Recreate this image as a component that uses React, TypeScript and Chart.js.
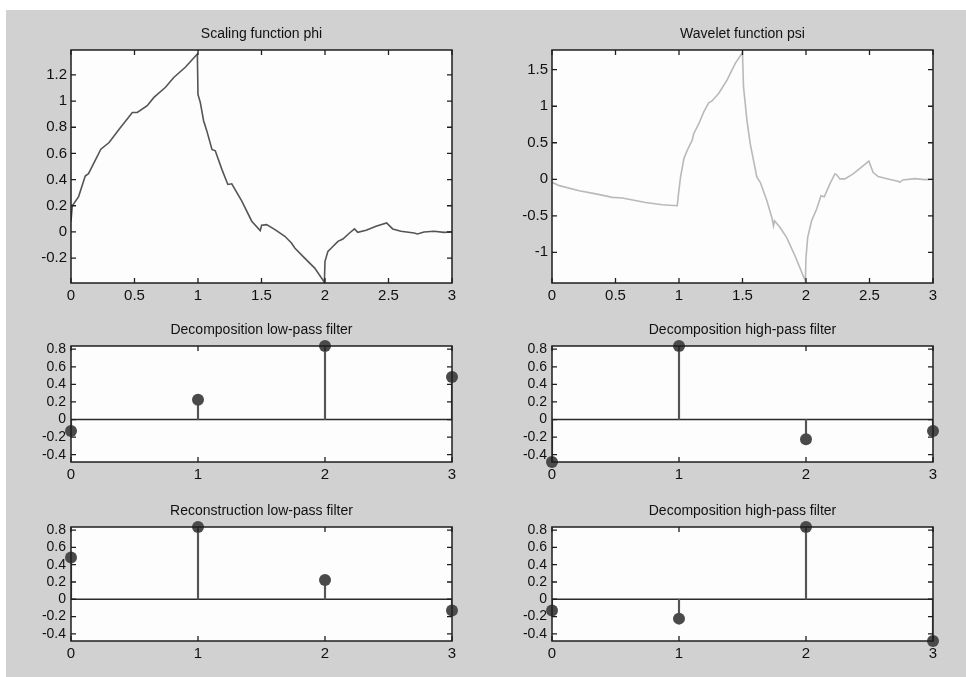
import React, { useEffect, useRef } from "react";
import { Chart, registerables } from "chart.js";

Chart.register(...registerables);

// ---------- data ----------
const PHI_X = [0, 0.01, 0.06, 0.112, 0.138, 0.235, 0.3, 0.379, 0.483, 0.522, 0.6, 0.653, 0.744, 0.809, 0.9, 0.995, 1.0, 1.018, 1.044, 1.07, 1.11, 1.136, 1.188, 1.235, 1.266, 1.345, 1.423, 1.49, 1.501, 1.54, 1.606, 1.684, 1.736, 1.762, 1.84, 1.919, 1.995, 2.0, 2.023, 2.05, 2.102, 2.141, 2.193, 2.232, 2.258, 2.324, 2.402, 2.485, 2.533, 2.598, 2.702, 2.728, 2.78, 2.859, 2.937, 3.0];
const PHI_Y = [0.08, 0.2, 0.27, 0.427, 0.445, 0.632, 0.683, 0.785, 0.913, 0.913, 0.964, 1.028, 1.105, 1.18, 1.258, 1.36, 1.05, 0.99, 0.85, 0.77, 0.63, 0.62, 0.478, 0.363, 0.368, 0.235, 0.082, 0.01, 0.051, 0.056, 0.018, -0.033, -0.084, -0.123, -0.2, -0.276, -0.384, -0.225, -0.148, -0.123, -0.072, -0.054, -0.008, 0.023, -0.003, 0.013, 0.043, 0.069, 0.023, 0.005, -0.008, -0.015, 0, 0.005, -0.003, 0];

const PSI_X = [0, 0.058, 0.214, 0.345, 0.476, 0.554, 0.737, 0.868, 0.986, 0.999, 1.012, 1.038, 1.064, 1.103, 1.116, 1.156, 1.195, 1.234, 1.26, 1.312, 1.378, 1.443, 1.5, 1.508, 1.535, 1.561, 1.613, 1.64, 1.692, 1.731, 1.744, 1.752, 1.796, 1.848, 1.914, 1.979, 1.995, 2.0, 2.013, 2.044, 2.084, 2.118, 2.144, 2.188, 2.227, 2.24, 2.267, 2.306, 2.371, 2.437, 2.495, 2.528, 2.568, 2.646, 2.725, 2.738, 2.763, 2.855, 2.934, 3.0];
const PSI_Y = [-0.041, -0.087, -0.156, -0.2, -0.248, -0.257, -0.317, -0.349, -0.362, -0.156, 0.028, 0.28, 0.394, 0.532, 0.624, 0.761, 0.922, 1.046, 1.073, 1.174, 1.358, 1.587, 1.734, 1.266, 0.807, 0.486, 0.028, -0.041, -0.294, -0.523, -0.638, -0.569, -0.66, -0.798, -1.05, -1.326, -1.394, -1.073, -0.798, -0.569, -0.408, -0.225, -0.239, -0.064, 0.073, 0.064, 0.005, 0.005, 0.073, 0.165, 0.248, 0.096, 0.037, 0.005, -0.028, -0.041, -0.009, 0.009, -0.005, 0];

const FILTER_X = [0, 1, 2, 3];
const LO_D = [-0.1294, 0.2241, 0.8365, 0.483];
const HI_D = [-0.483, 0.8365, -0.2241, -0.1294];
const LO_R = [0.483, 0.8365, 0.2241, -0.1294];
const HI_R = [-0.1294, -0.2241, 0.8365, -0.483];

const FUNC_X_TICKS = [0, 0.5, 1, 1.5, 2, 2.5, 3];
const PHI_Y_TICKS = [-0.2, 0, 0.2, 0.4, 0.6, 0.8, 1, 1.2];
const PSI_Y_TICKS = [-1, -0.5, 0, 0.5, 1, 1.5];
const FILTER_X_TICKS = [0, 1, 2, 3];
const FILTER_Y_TICKS = [-0.4, -0.2, 0, 0.2, 0.4, 0.6, 0.8];

const X_RANGE = [0, 3];
const PHI_RANGE = [-0.39, 1.39];
const PSI_RANGE = [-1.42, 1.77];
const FILTER_RANGE = [-0.483, 0.8365];

const TITLES = [
  "Scaling function phi",
  "Wavelet function psi",
  "Decomposition low-pass filter",
  "Decomposition high-pass filter",
  "Reconstruction low-pass filter",
  "Decomposition high-pass filter",
];

// ---------- styling ----------
const FONT = '"Liberation Sans", Arial, Helvetica, sans-serif';
const TEXT = "#111111";

const framePlugin = {
  id: "frame",
  beforeDraw(chart: any) {
    const { ctx, chartArea: a } = chart;
    ctx.save();
    ctx.fillStyle = "#fdfdfd";
    ctx.fillRect(a.left, a.top, a.right - a.left, a.bottom - a.top);
    ctx.restore();
  },
  afterDraw(chart: any, _args: any, opts: any) {
    const { ctx, chartArea: a, scales } = chart;
    ctx.save();
    ctx.strokeStyle = "#1e1e1e";
    ctx.lineWidth = 1.5;
    ctx.strokeRect(a.left, a.top, a.right - a.left, a.bottom - a.top);
    const tl = 5;
    ctx.lineWidth = 1.3;
    ctx.beginPath();
    scales.x.ticks.forEach((t: any) => {
      const px = scales.x.getPixelForValue(t.value);
      ctx.moveTo(px, a.bottom);
      ctx.lineTo(px, a.bottom - tl);
      ctx.moveTo(px, a.top);
      ctx.lineTo(px, a.top + tl);
    });
    scales.y.ticks.forEach((t: any) => {
      const py = scales.y.getPixelForValue(t.value);
      ctx.moveTo(a.left, py);
      ctx.lineTo(a.left + tl, py);
      ctx.moveTo(a.right, py);
      ctx.lineTo(a.right - tl, py);
    });
    ctx.stroke();
    if (opts && opts.title) {
      ctx.fillStyle = TEXT;
      ctx.font = `14px ${FONT}`;
      ctx.textAlign = "center";
      ctx.textBaseline = "middle";
      ctx.fillText(opts.title, (a.left + a.right) / 2, a.top - 16);
    }
    ctx.restore();
  },
};

function axis(range: number[], ticks: number[], fitKey: "width" | "height", fitVal: number, fontSize: number, pad: number) {
  return {
    type: "linear",
    min: range[0],
    max: range[1],
    offset: false,
    grid: { display: false, drawTicks: false },
    border: { display: false },
    afterBuildTicks: (s: any) => {
      s.ticks = ticks.map((v) => ({ value: v }));
    },
    afterFit: (s: any) => {
      s[fitKey] = fitVal;
    },
    ticks: {
      autoSkip: false,
      maxRotation: 0,
      minRotation: 0,
      padding: pad,
      color: TEXT,
      font: { family: FONT, size: fontSize },
      callback: (v: any) => String(v),
    },
  };
}

function lineConfig(title: string, xs: number[], ys: number[], color: string, yRange: number[], yTicks: number[], xHeight: number) {
  return {
    type: "line",
    data: {
      datasets: [
        {
          data: xs.map((x, i) => ({ x, y: ys[i] })),
          borderColor: color,
          borderWidth: 1.6,
          pointRadius: 0,
          tension: 0,
          fill: false,
        },
      ],
    },
    options: {
      responsive: false,
      animation: false,
      layout: { padding: { left: 0, right: 18, top: 36, bottom: 0 } },
      plugins: { legend: { display: false }, tooltip: { enabled: false }, frame: { title } },
      scales: {
        x: axis(X_RANGE, FUNC_X_TICKS, "height", xHeight, 15, 4),
        y: axis(yRange, yTicks, "width", 61, 15, 4),
      },
    },
    plugins: [framePlugin],
  };
}

function stemConfig(title: string, vals: number[], xHeight: number) {
  const pts = FILTER_X.map((x, i) => ({ x, y: vals[i] }));
  return {
    type: "bar",
    data: {
      datasets: [
        {
          type: "bar",
          data: pts,
          backgroundColor: "#555555",
          barThickness: 1.5,
          grouped: false,
          order: 2,
        },
        {
          type: "line",
          data: X_RANGE.map((x) => ({ x, y: 0 })),
          borderColor: "#2a2a2a",
          borderWidth: 1.6,
          pointRadius: 0,
          order: 3,
        },
        {
          type: "scatter",
          data: pts,
          pointRadius: 6,
          backgroundColor: "#4a4a4a",
          borderColor: "#4a4a4a",
          borderWidth: 0,
          clip: false,
          order: 1,
        },
      ],
    },
    options: {
      responsive: false,
      animation: false,
      layout: { padding: { left: 0, right: 18, top: 36, bottom: 0 } },
      plugins: { legend: { display: false }, tooltip: { enabled: false }, frame: { title } },
      scales: {
        x: axis(X_RANGE, FILTER_X_TICKS, "height", xHeight, 15, 4),
        y: axis(FILTER_RANGE, FILTER_Y_TICKS, "width", 61, 14, 5),
      },
    },
    plugins: [framePlugin],
  };
}

function Plot({ config, left, top, width, height }: any) {
  const ref = useRef<HTMLCanvasElement | null>(null);
  useEffect(() => {
    if (!ref.current) return;
    const chart = new Chart(ref.current, config);
    return () => chart.destroy();
  }, [config]);
  return (
    <canvas
      ref={ref}
      width={width}
      height={height}
      style={{ position: "absolute", left, top, width, height }}
    />
  );
}

const LEFT_COL = 10;
const RIGHT_COL = 491;
const COL_W = 460;

const configs = [
  { cfg: lineConfig(TITLES[0], PHI_X, PHI_Y, "#555555", PHI_RANGE, PHI_Y_TICKS, 27), left: LEFT_COL, top: 14, h: 296 },
  { cfg: lineConfig(TITLES[1], PSI_X, PSI_Y, "#b9b9b9", PSI_RANGE, PSI_Y_TICKS, 27), left: RIGHT_COL, top: 14, h: 296 },
  { cfg: stemConfig(TITLES[2], LO_D, 23), left: LEFT_COL, top: 310, h: 175 },
  { cfg: stemConfig(TITLES[3], HI_D, 23), left: RIGHT_COL, top: 310, h: 175 },
  { cfg: stemConfig(TITLES[4], LO_R, 25), left: LEFT_COL, top: 491, h: 175 },
  { cfg: stemConfig(TITLES[5], HI_R, 25), left: RIGHT_COL, top: 491, h: 175 },
];

export default function App() {
  return (
    <div style={{ position: "absolute", left: 0, top: 0, width: 966, height: 677, background: "#ffffff", overflow: "hidden" }}>
      <div style={{ position: "absolute", left: 6, top: 10, right: 0, bottom: 0, background: "#d1d1d1" }} />
      {configs.map((c, i) => (
        <Plot key={i} config={c.cfg} left={c.left} top={c.top} width={COL_W} height={c.h} />
      ))}
    </div>
  );
}
